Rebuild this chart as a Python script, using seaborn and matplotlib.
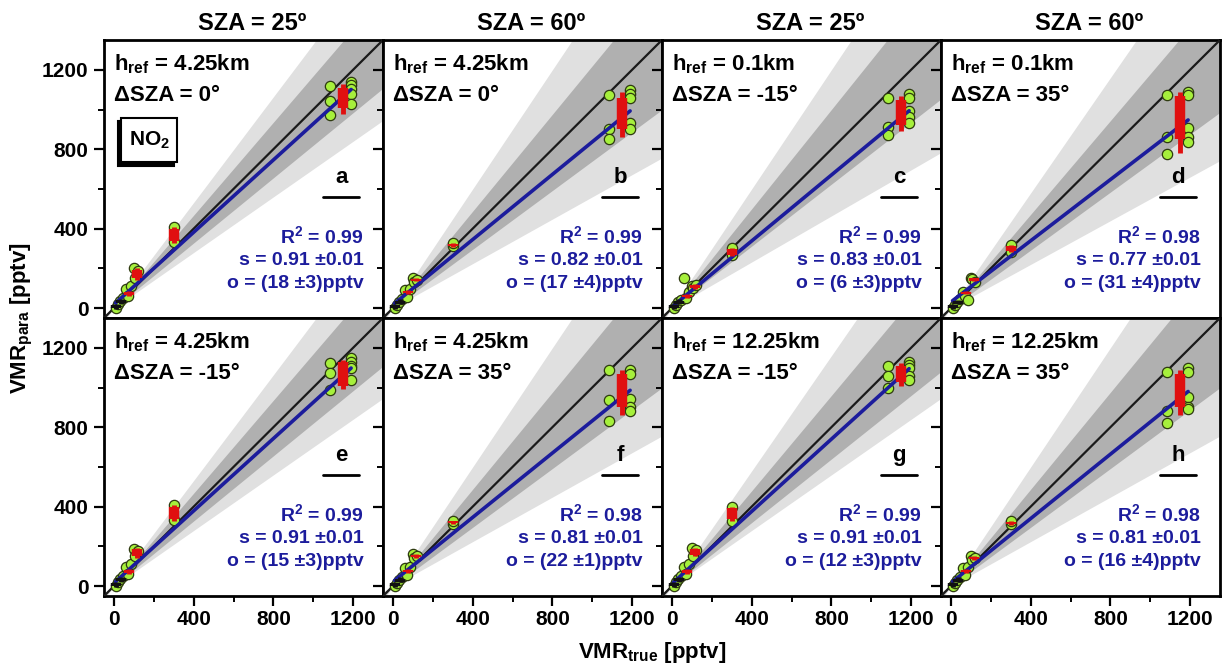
import numpy as np
import pandas as pd
import matplotlib
matplotlib.use("Agg")
import matplotlib.pyplot as plt
import matplotlib.transforms as mtransforms
from matplotlib.patches import Rectangle
from matplotlib.ticker import MultipleLocator
import seaborn as sns

# ---------------- data ----------------
panels = ["a", "b", "c", "d", "e", "f", "g", "h"]
sza_titles = ["SZA = 25º", "SZA = 60º", "SZA = 25º", "SZA = 60º"]
h_ref = ["4.25km", "4.25km", "0.1km", "0.1km", "4.25km", "4.25km", "12.25km", "12.25km"]
delta_sza = ["0°", "0°", "-15°", "35°", "-15°", "35°", "-15°", "35°"]
r2 = ["0.99", "0.99", "0.99", "0.98", "0.99", "0.98", "0.99", "0.98"]
slope = [0.91, 0.82, 0.83, 0.77, 0.91, 0.81, 0.91, 0.81]
slope_err = [0.01, 0.01, 0.01, 0.01, 0.01, 0.01, 0.01, 0.01]
offset = [18, 17, 6, 31, 15, 22, 12, 16]
offset_err = [3, 4, 3, 4, 3, 1, 3, 4]

# grey uncertainty wedges (ratio of para/true)
light_lo = [0.70, 0.56, 0.58, 0.55, 0.70, 0.56, 0.70, 0.56]
light_hi = [1.33, 1.50, 1.50, 1.45, 1.33, 1.50, 1.45, 1.50]
dark_lo = [0.82, 0.74, 0.78, 0.73, 0.82, 0.74, 0.80, 0.74]
dark_hi = [1.17, 1.22, 1.25, 1.18, 1.17, 1.22, 1.20, 1.22]

# individual cases (green)
green_x = [8, 18, 30, 45, 60, 70, 85, 100, 105, 120, 300, 300,
           1085, 1085, 1085, 1190, 1190, 1190, 1190, 1190]
green_y = {
    "a": [0, 20, 35, 50, 95, 60, 110, 200, 150, 185, 335, 410, 1120, 1045, 970, 1138, 1121, 1104, 1079, 1030],
    "b": [0, 15, 30, 45, 90, 55, 95, 150, 130, 140, 312, 328, 1075, 900, 850, 1100, 1080, 1060, 930, 900],
    "c": [0, 15, 30, 40, 150, 50, 80, 110, 100, 115, 265, 305, 1060, 910, 870, 1080, 1060, 990, 960, 930],
    "d": [0, 15, 30, 45, 80, 60, 40, 150, 145, 130, 280, 320, 1073, 861, 775, 1089, 1073, 906, 861, 836],
    "e": [0, 20, 35, 50, 95, 60, 110, 185, 150, 175, 335, 410, 1123, 1072, 987, 1148, 1128, 1110, 1098, 1037],
    "f": [0, 15, 30, 45, 90, 55, 95, 160, 140, 150, 315, 330, 1090, 935, 830, 1090, 1070, 940, 900, 880],
    "g": [0, 20, 35, 50, 95, 60, 110, 190, 150, 180, 330, 400, 1110, 1060, 1000, 1130, 1115, 1100, 1060, 1040],
    "h": [0, 15, 30, 45, 90, 55, 95, 150, 130, 140, 312, 328, 1080, 880, 820, 1100, 1080, 950, 900, 890],
}

# box statistics per true level
box_x = [12, 35, 75, 118, 300, 1150]
box_lo = {
    "a": [-5, 20, 60, 140, 330, 975], "b": [-5, 18, 70, 135, 310, 860],
    "c": [-5, 18, 50, 95, 260, 890], "d": [-5, 18, 70, 135, 280, 780],
    "e": [-5, 20, 60, 140, 330, 990], "f": [-5, 18, 65, 140, 315, 860],
    "g": [-5, 20, 60, 150, 330, 1010], "h": [-5, 18, 65, 130, 310, 860],
}
box_q1 = {
    "a": [0, 25, 65, 150, 340, 1010], "b": [0, 22, 75, 138, 312, 900],
    "c": [0, 22, 55, 100, 265, 920], "d": [0, 22, 72, 138, 285, 850],
    "e": [0, 25, 65, 150, 340, 1010], "f": [0, 22, 70, 145, 318, 900],
    "g": [0, 25, 65, 155, 340, 1030], "h": [0, 22, 70, 135, 313, 900],
}
box_q3 = {
    "a": [15, 40, 80, 190, 400, 1110], "b": [14, 38, 85, 148, 325, 1060],
    "c": [14, 38, 65, 115, 300, 1050], "d": [14, 36, 80, 150, 315, 1070],
    "e": [15, 40, 80, 185, 400, 1130], "f": [14, 38, 80, 155, 328, 1070],
    "g": [15, 40, 80, 185, 395, 1110], "h": [14, 38, 80, 148, 325, 1070],
}
box_hi = {
    "a": [22, 48, 85, 200, 410, 1130], "b": [20, 45, 90, 150, 328, 1090],
    "c": [20, 45, 70, 120, 305, 1070], "d": [20, 42, 85, 152, 320, 1090],
    "e": [22, 48, 85, 190, 410, 1140], "f": [20, 45, 85, 160, 330, 1090],
    "g": [22, 48, 85, 190, 400, 1125], "h": [20, 45, 85, 150, 328, 1090],
}
box_color = ["#111111", "#111111", "#e01010", "#e01010", "#e01010", "#e01010"]

x_ticks = [0, 400, 800, 1200]
y_ticks = [0, 400, 800, 1200]

# ---------------- style ----------------
sns.set_style("ticks")
plt.rcParams["font.family"] = ["Liberation Sans", "DejaVu Sans"]
plt.rcParams["font.weight"] = "bold"
plt.rcParams["text.color"] = "black"
plt.rcParams["axes.labelcolor"] = "black"
plt.rcParams["xtick.color"] = "black"
plt.rcParams["ytick.color"] = "black"
plt.rcParams["mathtext.fontset"] = "custom"
plt.rcParams["mathtext.rm"] = "Liberation Sans:bold"
plt.rcParams["mathtext.bf"] = "Liberation Sans:bold"
plt.rcParams["mathtext.it"] = "Liberation Sans:bold"
plt.rcParams["mathtext.default"] = "rm"

BLUE = "#1c1c9c"
GREEN = "#a6f03c"

fig, axes = plt.subplots(2, 4, figsize=(12.22, 6.67), dpi=100, sharex=True, sharey=True)
fig.subplots_adjust(left=104 / 1222, right=1220 / 1222, bottom=(667 - 596) / 667,
                    top=(667 - 40) / 667, wspace=0, hspace=0)

for i, ax in enumerate(axes.flat):
    p = panels[i]
    xx = np.array([-60, 1360])
    ax.fill_between(xx, light_lo[i] * xx, light_hi[i] * xx, color="#e0e0e0", lw=0, zorder=1)
    ax.fill_between(xx, dark_lo[i] * xx, dark_hi[i] * xx, color="#b0b0b0", lw=0, zorder=2)
    ax.axline((0, 0), slope=1, color="#1a1a1a", lw=1.6, zorder=3)

    df = pd.DataFrame({"x": green_x, "y": green_y[p]})
    sns.scatterplot(data=df, x="x", y="y", ax=ax, color=GREEN, edgecolor="#2e3a10",
                    linewidth=0.9, s=55, zorder=4, legend=False)

    xf = np.array([min(green_x), max(green_x)])
    sns.lineplot(x=xf, y=slope[i] * xf + offset[i], ax=ax, color=BLUE, lw=2.6, zorder=5)

    for k, bx in enumerate(box_x):
        ax.vlines(bx, box_lo[p][k], box_hi[p][k], color=box_color[k], lw=3.5, zorder=6)
        ax.vlines(bx, box_q1[p][k], box_q3[p][k], color=box_color[k], lw=7.5, zorder=6)

    ax.set_xlim(-50, 1350)
    ax.set_ylim(-50, 1350)
    ax.set_xticks(x_ticks)
    ax.set_yticks(y_ticks)
    ax.xaxis.set_minor_locator(MultipleLocator(200))
    ax.yaxis.set_minor_locator(MultipleLocator(200))
    ax.tick_params(which="major", direction="out", length=7, width=1.6, labelsize=15,
                   top=False, right=False, pad=4)
    ax.tick_params(which="minor", direction="out", length=4, width=1.4, top=False, right=False)
    ax.tick_params(axis="x", which="major", pad=3)
    for lab in ax.get_xticklabels() + ax.get_yticklabels():
        lab.set_fontweight("bold")
    for sp in ax.spines.values():
        sp.set_linewidth(2)
        sp.set_color("black")
        sp.set_visible(True)
    ax.set_xlabel("")
    ax.set_ylabel("")

    ax.text(0.035, 0.892, f"h$_{{ref}}$ = {h_ref[i]}", transform=ax.transAxes,
            fontsize=16, fontweight="bold", va="baseline", ha="left", zorder=10)
    ax.text(0.035, 0.78, f"ΔSZA = {delta_sza[i]}", transform=ax.transAxes,
            fontsize=16, fontweight="bold", va="baseline", ha="left", zorder=10)

    ax.text(0.85, 0.487, p, transform=ax.transAxes, fontsize=16, fontweight="bold",
            ha="center", va="baseline", zorder=10)
    ax.plot([0.785, 0.915], [0.435, 0.435], transform=ax.transAxes, color="black",
            lw=2, zorder=10)

    ax.text(0.93, 0.27, f"R$^{{2}}$ = {r2[i]}", transform=ax.transAxes, fontsize=14,
            fontweight="bold", color=BLUE, ha="right", va="baseline", zorder=10)
    ax.text(0.93, 0.19, f"s = {slope[i]:.2f} ±{slope_err[i]:.2f}", transform=ax.transAxes,
            fontsize=14, fontweight="bold", color=BLUE, ha="right", va="baseline", zorder=10)
    ax.text(0.93, 0.108, f"o = ({offset[i]} ±{offset_err[i]})pptv", transform=ax.transAxes,
            fontsize=14, fontweight="bold", color=BLUE, ha="right", va="baseline", zorder=10)

    if i < 4:
        ax.set_title(sza_titles[i], fontsize=17, fontweight="bold", pad=7, color="black", x=0.53)

# NO2 label box with drop shadow in panel a
ax0 = axes[0, 0]
bx0, by0, bw, bh = 0.062, 0.56, 0.20, 0.16
shadow_tr = mtransforms.offset_copy(ax0.transAxes, fig=fig, x=-3.5, y=-3.5, units="dots")
ax0.add_patch(Rectangle((bx0, by0), bw, bh, transform=shadow_tr, fc="black", ec="black",
                        lw=1.5, zorder=11))
ax0.add_patch(Rectangle((bx0, by0), bw, bh, transform=ax0.transAxes, fc="white", ec="black",
                        lw=1.5, zorder=12))
ax0.text(bx0 + bw / 2, by0 + bh / 2, "NO$_2$", transform=ax0.transAxes, fontsize=15,
         fontweight="bold", ha="center", va="center", color="black", zorder=13)

fig.text(0.534, 0.022, "VMR$_{true}$ [pptv]", fontsize=16, fontweight="bold",
         ha="center", va="center")
fig.text(0.018, 0.523, "VMR$_{para}$ [pptv]", fontsize=16, fontweight="bold",
         ha="center", va="center", rotation=90)

fig.savefig("out.png", dpi=100)
